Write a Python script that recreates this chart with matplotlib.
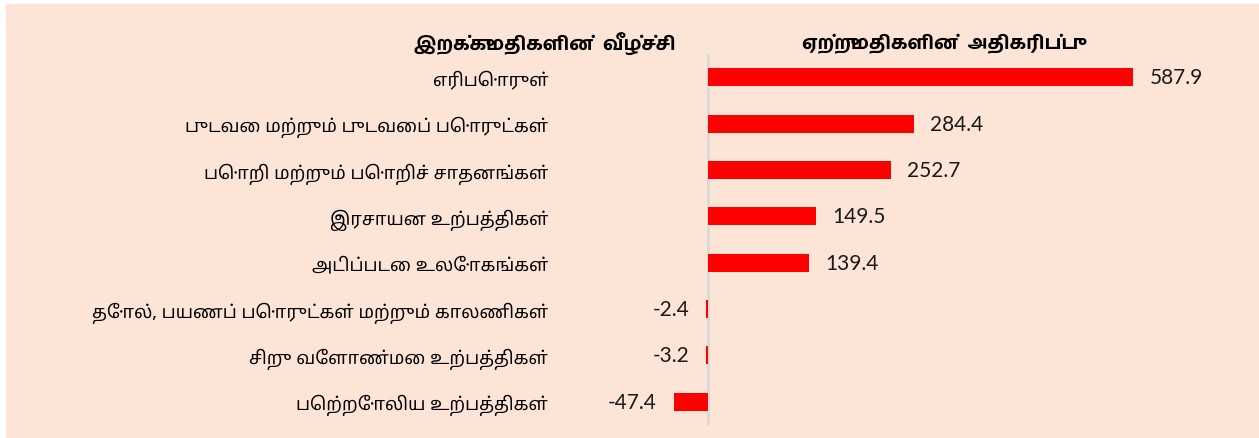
import matplotlib
matplotlib.use('Agg')
import matplotlib.pyplot as plt
from matplotlib import font_manager

categories = ['எரிபொருள்', 'புடவை மற்றும் புடவைப் பொருட்கள்',
              'பொறி மற்றும் பொறிச் சாதனங்கள்', 'இரசாயன உற்பத்திகள்',
              'அடிப்படை உலோகங்கள்', 'தோல், பயணப் பொருட்கள் மற்றும் காலணிகள்',
              'சிறு வேளாண்மை உற்பத்திகள்', 'பெற்றோலிய உற்பத்திகள்']
values = [587.9, 284.4, 252.7, 149.5, 139.4, -2.4, -3.2, -47.4]
title_left = 'இறக்குமதிகளின்  வீழ்ச்சி'
title_right = 'ஏற்றுமதிகளின்  அதிகரிப்பு'

# pick installed fonts with Tamil glyphs (and one with a real bold for titles)
fonts = font_manager.fontManager.ttflist
installed = {f.name for f in fonts}
prefs = ['Noto Sans Tamil', 'Lohit Tamil', 'Hind Madurai', 'Mukta Malar',
         'Catamaran', 'FreeSans']
tamil_family = [n for n in prefs if n in installed] + ['DejaVu Sans']
bold_names = {f.name for f in fonts
              if isinstance(f.weight, int) and f.weight >= 600 or f.weight == 'bold'}
title_family = [n for n in prefs if n in bold_names] + tamil_family

bg = '#FCE4D6'
fig = plt.figure(figsize=(12.59, 4.39), dpi=100, facecolor='white')
fig.patches.append(plt.Rectangle((6/1259, 0), 1, 1 - 5/439, transform=fig.transFigure,
                                 color=bg, zorder=-1))

ax = fig.add_axes([560/1259, 1 - 426/439, 690/1259, 371/439])
ax.set_facecolor('none')
y = list(range(len(values)))
ax.barh(y, values, height=0.39, color='#FF0000')
ax.set_xlim(-204.7, 749.7)
ax.set_ylim(len(values) - 0.5, -0.5)
ax.axvline(0, color='#D9D9D9', lw=2, zorder=0)

for spine in ax.spines.values():
    spine.set_visible(False)
ax.set_xticks([])
ax.set_yticks(y)
ax.set_yticklabels(categories, family=tamil_family, fontsize=13)
ax.tick_params(axis='y', length=0, pad=8.5)

for yi, v in zip(y, values):
    off = 12 if v > 0 else -12
    ax.annotate(f'{v:.1f}', (v, yi), xytext=(off, 0), textcoords='offset points',
                ha='left' if v > 0 else 'right', va='center', fontsize=15,
                family='Lato', color='#1a1a1a')

fig.text(545/1259, 1 - 44/439, title_left, ha='center', va='center', fontsize=14,
         fontweight='bold', family=title_family)
fig.text(940/1259, 1 - 44/439, title_right, ha='center', va='center', fontsize=14,
         fontweight='bold', family=title_family)

fig.savefig('out.png', dpi=100)
